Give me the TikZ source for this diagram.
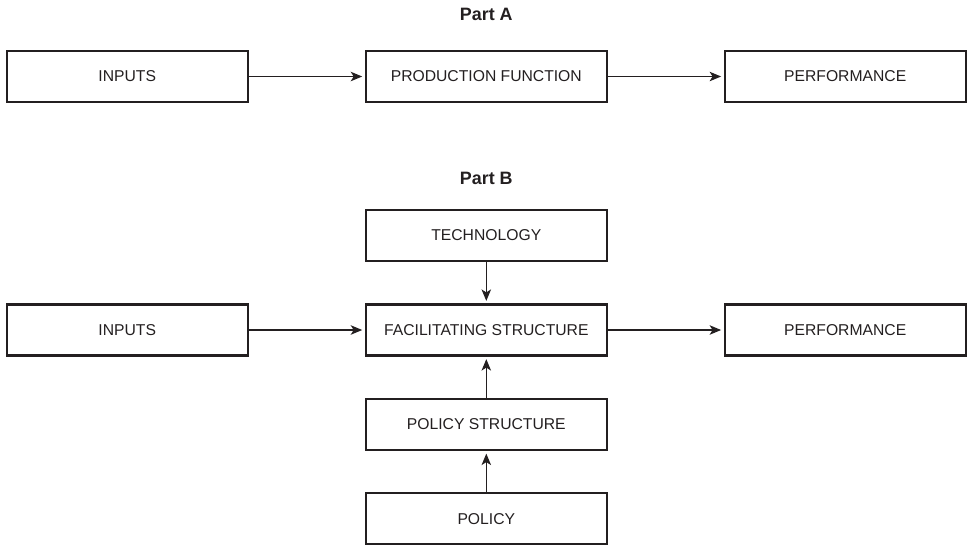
\documentclass[tikz,border=0pt]{standalone}
\usepackage{fontspec}
\setmainfont{Liberation Sans}
\usetikzlibrary{arrows.meta}
\definecolor{ink}{HTML}{231F20}
\tikzset{
  box/.style={draw=ink, line width=2.2pt, minimum width=241pt, minimum height=51pt,
    inner sep=0pt, text=ink, font=\fontsize{15.7}{18}\selectfont},
  title/.style={text=ink, font=\fontsize{17.9}{20}\selectfont\bfseries, inner sep=0pt},
  link/.style={draw=ink, line width=1.2pt,
    -{Stealth[length=11.5pt,width=9.5pt,inset=3pt]}, shorten >=2.5pt}
}
\begin{document}
\begin{tikzpicture}[x=1pt,y=-1pt]
  \useasboundingbox (0,0) rectangle (967,547);

  % Part A: simple production chain
  \node[title] (ta) at (486.3,14) {Part A};
  \node[box] (ina)   at (127.2,76.5) {INPUTS};
  \node[box] (prod)  at (486.3,76.5) {PRODUCTION FUNCTION};
  \node[box] (perfa) at (845.2,76.5) {PERFORMANCE};
  \draw[link] (ina) -- (prod);
  \draw[link] (prod) -- (perfa);

  % Part B: structure between inputs and performance
  \node[title] (tb) at (486.3,178.5) {Part B};
  \node[box] (tech)  at (486.3,235.5) {TECHNOLOGY};
  \node[box] (inb)   at (127.2,330) {INPUTS};
  \node[box] (fac)   at (486.3,330) {FACILITATING STRUCTURE};
  \node[box] (perfb) at (845.2,330) {PERFORMANCE};
  \node[box] (pstr)  at (486.3,424.5) {POLICY STRUCTURE};
  \node[box] (pol)   at (486.3,518.8) {POLICY};
  \draw[link] (inb) -- (fac);
  \draw[link] (fac) -- (perfb);
  \draw[link] (tech) -- (fac);
  \draw[link] (pstr) -- (fac);
  \draw[link] (pol) -- (pstr);
\end{tikzpicture}
\end{document}
